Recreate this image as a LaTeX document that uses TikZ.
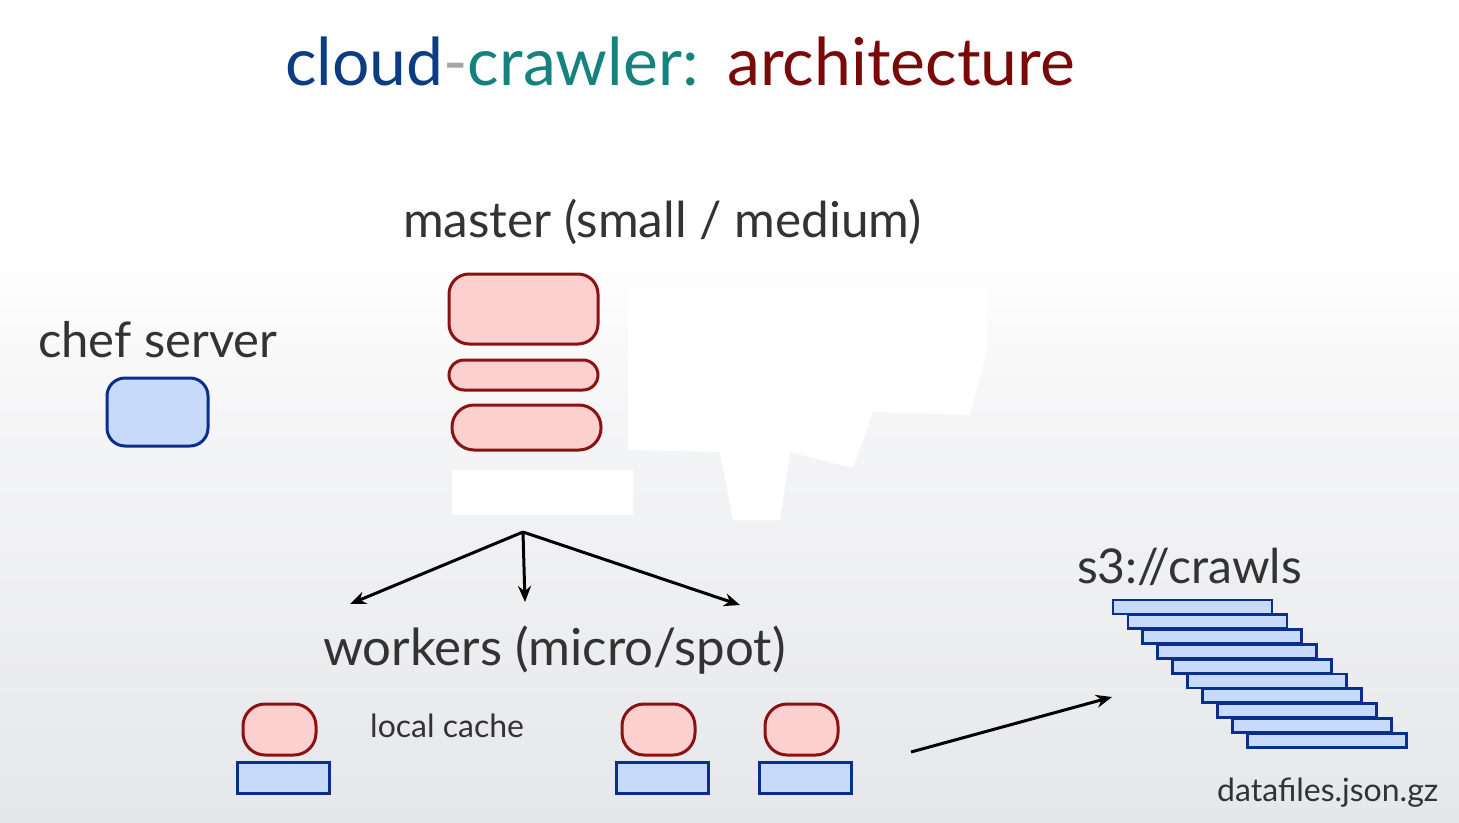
\documentclass[tikz,border=0pt]{standalone}
\usepackage{fontspec}
\setmainfont{Lato}
\usetikzlibrary{arrows.meta}
\definecolor{txt}{HTML}{333333}
\definecolor{cloudc}{HTML}{0B3D82}
\definecolor{crawlc}{HTML}{15827E}
\definecolor{archc}{HTML}{7A0A0A}
\definecolor{pinkf}{HTML}{FDD0D0}
\definecolor{redd}{HTML}{8B1212}
\definecolor{bluef}{HTML}{C8DAFA}
\definecolor{blued}{HTML}{0A2E8C}
\definecolor{bgbot}{HTML}{E6E7EA}
\tikzset{
  lbl/.style={anchor=base west, inner sep=0pt, text=txt},
  redbox/.style={draw=redd, fill=pinkf, line width=3pt},
  bluebox/.style={draw=blued, fill=bluef, line width=3pt},
  arr/.style={-{Stealth[length=16pt,width=13pt]}, line width=3pt, black},
  patch/.style={fill=white, draw=none}
}
\begin{document}
\begin{tikzpicture}[x=1pt,y=-1pt]
\useasboundingbox (0,0) rectangle (1459,822);
\shade[top color=white, bottom color=bgbot, middle color=white!60!bgbot] (0,0) rectangle (1459,822);
\fill[white] (0,0) rectangle (1459,250);
\shade[top color=white, bottom color=white!60!bgbot] (0,250) rectangle (1459,411);
% white patches
\fill[patch] (628,290) -- (628,450) -- (720,452) -- (733,520) -- (780,520) -- (790,452) -- (853,468) -- (873,412) -- (970,415) -- (987,350) -- (987,290) -- cycle;
\fill[patch] (452,470) rectangle (633,515);
% title
\node[anchor=base west, inner sep=0pt, font=\fontsize{66}{70}\selectfont] (title) at (285,85)
  {\textcolor{cloudc}{cloud}\textcolor{gray!70}{-}\textcolor{crawlc}{crawler:}\hspace{29pt}\textcolor{archc}{architecture}};
% labels
\node[lbl, font=\fontsize{49.5}{54}\selectfont] (masterlbl) at (403,237) {master (small / medium)};
\node[lbl, font=\fontsize{49}{54}\selectfont] (cheflbl) at (38,357) {chef server};
\node[lbl, font=\fontsize{51}{55}\selectfont] (workerslbl) at (323,665) {workers (micro/spot)};
\node[lbl, font=\fontsize{48}{52}\selectfont] (s3lbl) at (1077,583) {s3://crawls};
\node[lbl, font=\fontsize{32}{36}\selectfont] (cachelbl) at (370,737) {local cache};
\node[lbl, font=\fontsize{32}{36}\selectfont] (datalbl) at (1217,801) {datafiles.json.gz};
% master
\draw[redbox, rounded corners=20pt] (449,274) rectangle (598,344);
\draw[redbox, rounded corners=15pt] (449,360) rectangle (598,390);
\draw[redbox, rounded corners=22pt] (452,405) rectangle (601,450);
% chef
\draw[bluebox, rounded corners=18pt] (107,378) rectangle (208,446);
% workers
\foreach \x in {243,622,765}{
  \draw[redbox, rounded corners=22pt] (\x,704) rectangle ++(73,51);
  \draw[bluebox] (\x-6,762) rectangle ++(92,31);
}
% s3 stack
\foreach \i in {0,...,9}{
  \draw[bluebox, line width=2.8pt] (1113+14.9*\i,600+14.8*\i) rectangle ++(159,14);
}
% arrows
\coordinate (fork) at (523,532);
\coordinate (wl) at (350,604);
\coordinate (wm) at (525,602);
\coordinate (wr) at (740,605);
\coordinate (ws) at (911,752);
\coordinate (s3in) at (1112,697);
\draw[arr] (fork) -- (wl);
\draw[arr] (fork) -- (wm);
\draw[arr] (fork) -- (wr);
\draw[arr] (ws) -- (s3in);
\end{tikzpicture}
\end{document}
